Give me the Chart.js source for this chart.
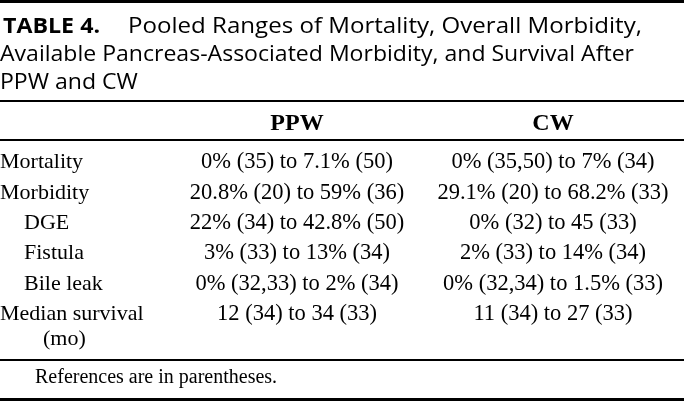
<!DOCTYPE html>
<html>
<head>
<meta charset="utf-8">
<script src="https://cdn.jsdelivr.net/npm/chart.js@4.4.1/dist/chart.umd.min.js"></script>
<style>
  html, body { margin: 0; padding: 0; background: #fff; }
  #wrap { width: 684px; height: 401px; position: relative; }
</style>
</head>
<body>
<div id="wrap"><canvas id="c" width="684" height="401"></canvas></div>
<script>
// ---- table content ----
const titleLead = "TABLE 4.";
const titleLines = [
  "Pooled Ranges of Mortality, Overall Morbidity,",
  "Available Pancreas-Associated Morbidity, and Survival After",
  "PPW and CW"
];
const columns = ["PPW", "CW"];
const rowLabels = ["Mortality", "Morbidity", "DGE", "Fistula", "Bile leak", "Median survival"];
const rowLabelsCont = ["", "", "", "", "", "(mo)"];
const rowLevel = [0, 0, 1, 1, 1, 0];
const ppwValues = [
  "0% (35) to 7.1% (50)",
  "20.8% (20) to 59% (36)",
  "22% (34) to 42.8% (50)",
  "3% (33) to 13% (34)",
  "0% (32,33) to 2% (34)",
  "12 (34) to 34 (33)"
];
const cwValues = [
  "0% (35,50) to 7% (34)",
  "29.1% (20) to 68.2% (33)",
  "0% (32) to 45 (33)",
  "2% (33) to 14% (34)",
  "0% (32,34) to 1.5% (33)",
  "11 (34) to 27 (33)"
];
const footnote = "References are in parentheses.";

const SERIF = '"Liberation Serif", "Times New Roman", serif';
const SANS = '"Open Sans", Lato, sans-serif';

function squeezeText(ctx, text, x, y, sx, align) {
  const w = ctx.measureText(text).width * sx;
  let x0 = x;
  if (align === 'center') x0 = x - w / 2;
  else if (align === 'right') x0 = x - w;
  ctx.save();
  ctx.translate(x0, y);
  ctx.scale(sx, 1);
  ctx.textAlign = 'left';
  ctx.fillText(text, 0, 0);
  ctx.restore();
}

const tablePlugin = {
  id: 'tableDraw',
  afterDatasetsDraw(chart) {
    const ctx = chart.ctx;
    const xs = chart.scales.x, ys = chart.scales.y;
    const W = chart.width;
    ctx.save();
    ctx.fillStyle = '#000';
    ctx.textBaseline = 'alphabetic';
    // rules
    ctx.fillRect(0, 0, W, 3);
    ctx.fillRect(0, 100, W, 2);
    ctx.fillRect(0, 139, W, 2);
    ctx.fillRect(0, 359, W, 2);
    ctx.fillRect(0, 398, W, 3);
    // title
    ctx.font = 'bold 21px ' + SANS;
    const leadSx = 97 / ctx.measureText(titleLead).width;
    squeezeText(ctx, titleLead, 3, 33, leadSx, 'left');
    ctx.font = '21px ' + SANS;
    const tSx1 = 514 / ctx.measureText(titleLines[0]).width;
    const tSx = 634 / ctx.measureText(titleLines[1]).width;
    squeezeText(ctx, titleLines[0], 128, 33, tSx1, 'left');
    squeezeText(ctx, titleLines[1], 0, 61, tSx, 'left');
    squeezeText(ctx, titleLines[2], 0, 89, tSx, 'left');
    // header
    ctx.font = 'bold 24px ' + SERIF;
    columns.forEach((c, i) => {
      squeezeText(ctx, c, xs.getPixelForValue(i + 1), 130, 1, 'center');
    });
    // row labels
    ctx.font = '22px ' + SERIF;
    rowLabels.forEach((lab, i) => {
      const y = ys.getPixelForValue(i) + 7;
      squeezeText(ctx, lab, rowLevel[i] ? 24 : 0, y, 1, 'left');
      if (rowLabelsCont[i]) squeezeText(ctx, rowLabelsCont[i], 43, y + 25, 1, 'left');
    });
    // footnote
    ctx.font = '20px ' + SERIF;
    ctx.fillText(footnote, 35, 383);
    ctx.restore();
  }
};

const cellPlugin = {
  id: 'cellDraw',
  afterDatasetsDraw(chart) {
    const ctx = chart.ctx;
    ctx.save();
    ctx.fillStyle = '#000';
    ctx.font = '22.5px ' + SERIF;
    chart.data.datasets.forEach((ds, di) => {
      const meta = chart.getDatasetMeta(di);
      meta.data.forEach((el, i) => {
        squeezeText(ctx, ds.cellText[i], el.x, el.y + 7, 1, 'center');
      });
    });
    ctx.restore();
  }
};

const rowIdx = rowLabels.map((_, i) => i);
new Chart(document.getElementById('c'), {
  type: 'scatter',
  data: {
    datasets: [
      { label: columns[0], data: rowIdx.map(i => ({ x: 1, y: i })), cellText: ppwValues, pointRadius: 0 },
      { label: columns[1], data: rowIdx.map(i => ({ x: 2, y: i })), cellText: cwValues, pointRadius: 0 }
    ]
  },
  options: {
    responsive: false,
    animation: false,
    events: [],
    layout: { padding: { left: 169, right: 3, top: 146, bottom: 73 } },
    plugins: { legend: { display: false }, tooltip: { enabled: false }, title: { display: false } },
    scales: {
      x: { type: 'linear', min: 0.5, max: 2.5, display: false },
      y: { type: 'linear', min: -0.5, max: rowLabels.length - 0.5, reverse: true, display: false }
    }
  },
  plugins: [tablePlugin, cellPlugin]
});
</script>
</body>
</html>
